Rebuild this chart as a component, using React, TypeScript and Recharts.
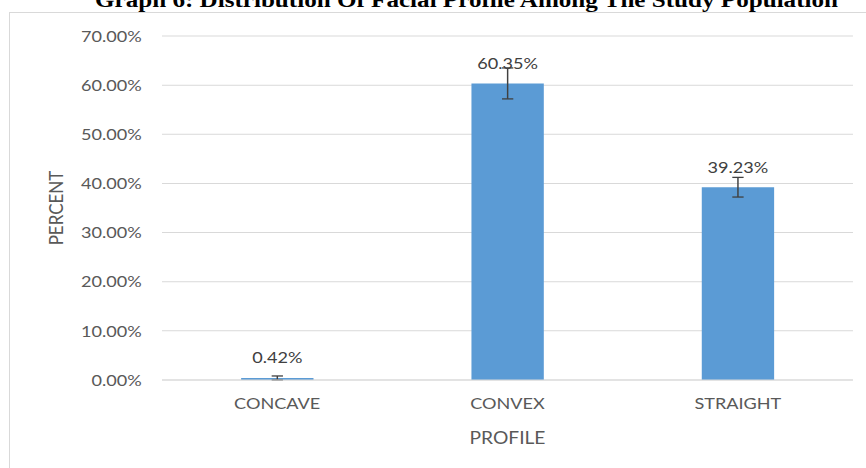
import React from 'react';
import { BarChart, Bar, XAxis, YAxis, CartesianGrid, ErrorBar, LabelList } from 'recharts';

const categories = ['CONCAVE', 'CONVEX', 'STRAIGHT'];
const percents = [0.42, 60.35, 39.23];
const errors = [0.4, 3.15, 2.0];
const yTicks = [0, 10, 20, 30, 40, 50, 60, 70];
const title = 'Graph 6: Distribution Of Facial Profile Among The Study Population';
const xTitle = 'PROFILE';
const yTitle = 'PERCENT';

const data = categories.map((c, i) => ({ category: c, value: percents[i], err: errors[i] }));

const SCALE_X = 1.1305;
const INNER_W = 766;
const H = 468;
const FONT = 'Lato, "Open Sans", sans-serif';
const TEXT = '#595959';
const GRID = '#d9d9d9';

const pct = (v: any) => Number(v).toFixed(2) + '%';

const YTitle = (props: any) => {
  const vb = props.viewBox || { x: 0, y: 36, width: 143.3, height: 344 };
  const cx = vb.x + 55.5;
  const cy = vb.y + vb.height / 2;
  return (
    <text x={cx} y={cy} transform={`rotate(-90 ${cx} ${cy})`} textAnchor="middle" fill={TEXT} fontSize={17} fontFamily={FONT}>
      {yTitle}
    </text>
  );
};

const XTitle = (props: any) => {
  const vb = props.viewBox || { x: 143.3, y: 380, width: 611, height: 88 };
  const cx = vb.x + vb.width / 2;
  const by = vb.y + 64;
  return (
    <text x={cx} y={by} textAnchor="middle" fill={TEXT} fontSize={17} fontFamily={FONT}>
      {xTitle}
    </text>
  );
};

export default function App() {
  return (
    <div style={{ position: 'fixed', left: 0, top: 0, width: 866, height: H, overflow: 'hidden', background: '#fff' }}>
      <div style={{ position: 'absolute', left: 9, top: 12, width: 900, height: 520, border: '1px solid #d9d9d9', boxSizing: 'border-box' }} />
      <svg style={{ position: 'absolute', left: 0, top: 0 }} width={866} height={20}>
        <text x={95} y={7} textLength={743} lengthAdjust="spacingAndGlyphs" fontFamily={'"Liberation Serif", "Times New Roman", serif'} fontWeight="bold" fontSize={20} fill="#000">
          {title}
        </text>
      </svg>
      <div style={{ position: 'absolute', left: 0, top: 0, transform: `scaleX(${SCALE_X})`, transformOrigin: '0 0' }}>
        <BarChart width={INNER_W} height={H} data={data} margin={{ top: 36, right: 11.5, bottom: 0, left: 0 }}>
          <CartesianGrid horizontal vertical={false} stroke={GRID} strokeWidth={1} />
          <XAxis
            dataKey="category"
            height={88}
            axisLine={{ stroke: GRID }}
            tickLine={false}
            tickSize={0}
            tickMargin={18}
            tick={{ fill: TEXT, fontSize: 16, fontFamily: FONT }}
            label={{ content: XTitle }}
          />
          <YAxis
            width={143.3}
            domain={[0, 70]}
            ticks={yTicks}
            tickFormatter={pct}
            axisLine={false}
            tickLine={false}
            tickSize={0}
            tickMargin={18}
            tick={{ fill: TEXT, fontSize: 16, fontFamily: FONT }}
            label={{ content: YTitle }}
          />
          <Bar dataKey="value" fill="#5B9BD5" barSize={64} isAnimationActive={false}>
            <ErrorBar dataKey="err" direction="y" width={5} stroke="#404040" strokeWidth={1.3} isAnimationActive={false} />
            <LabelList dataKey="value" position="top" offset={14.5} formatter={pct} fill="#404040" fontSize={16} fontFamily={FONT} />
          </Bar>
        </BarChart>
      </div>
    </div>
  );
}
